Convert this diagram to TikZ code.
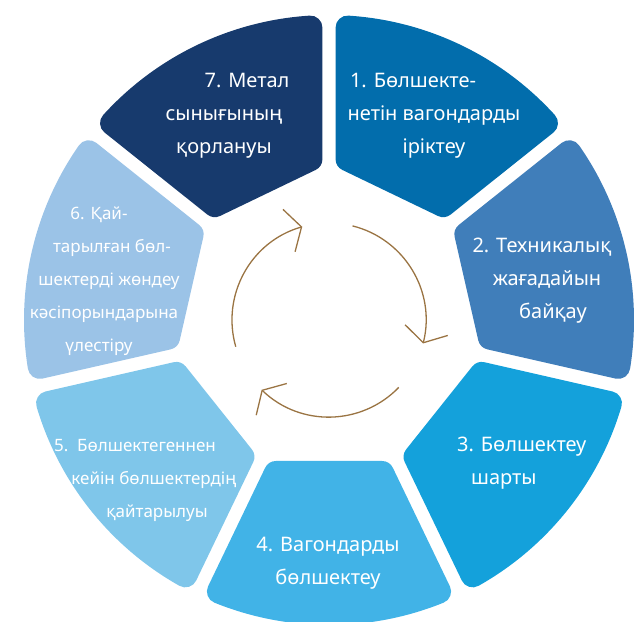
\documentclass[tikz,border=0pt]{standalone}
\usepackage{fontspec}
\setmainfont{Noto Sans}
\usetikzlibrary{arrows.meta}
\definecolor{navy}{HTML}{173A6D}
\definecolor{deepblue}{HTML}{026DAC}
\definecolor{steel}{HTML}{407EBA}
\definecolor{ocean}{HTML}{14A1DB}
\definecolor{sky}{HTML}{41B3E7}
\definecolor{pale}{HTML}{7FC6EA}
\definecolor{mist}{HTML}{9BC3E7}
\definecolor{bronze}{HTML}{9A7443}

\begin{document}
\begin{tikzpicture}[x=1pt,y=1pt]
  \tikzstyle{seg}=[line width=24pt,line join=round]
  \tikzstyle{lbl}=[text=white,font=\fontsize{20}{33}\selectfont,align=center,inner sep=0pt]
  \tikzstyle{lbls}=[lbl,font=\fontsize{17}{33}\selectfont]
  \tikzstyle{cyc}=[draw=bronze,line width=1.3pt,-{Straight Barb[length=13pt,width=44pt]}]
  \useasboundingbox (-329,-301) rectangle (310,320);
  % segments: shrunk shape + thick round-joined stroke = rounded corners
  \filldraw[seg,fill=deepblue,draw=deepblue] (42.22:293) arc[start angle=42.22,end angle=86.36,radius=293] -- (83.41:161.93) -- (45.17:161.93) -- cycle;
  \filldraw[seg,fill=steel,draw=steel] (-9.21:293) arc[start angle=-9.21,end angle=34.93,radius=293] -- (31.98:161.93) -- (-6.26:161.93) -- cycle;
  \filldraw[seg,fill=ocean,draw=ocean] (-60.64:293) arc[start angle=-60.64,end angle=-16.50,radius=293] -- (-19.45:161.93) -- (-57.69:161.93) -- cycle;
  \filldraw[seg,fill=sky,draw=sky] (-112.07:293) arc[start angle=-112.07,end angle=-67.93,radius=293] -- (-70.88:161.93) -- (-109.12:161.93) -- cycle;
  \filldraw[seg,fill=pale,draw=pale] (-163.50:293) arc[start angle=-163.50,end angle=-119.36,radius=293] -- (-122.31:161.93) -- (-160.55:161.93) -- cycle;
  \filldraw[seg,fill=mist,draw=mist] (145.07:293) arc[start angle=145.07,end angle=189.21,radius=293] -- (186.26:161.93) -- (148.02:161.93) -- cycle;
  \filldraw[seg,fill=navy,draw=navy] (93.64:293) arc[start angle=93.64,end angle=137.78,radius=293] -- (134.83:161.93) -- (96.59:161.93) -- cycle;
  % labels
  \node[lbl] (t1) at (105,204) {1. Бөлшекте-\hspace*{42pt}\\нетін вагондарды\\іріктеу};
  \node[lbl] (t2) at (218,39) {2. Техникалық\hspace*{10pt}\\жағадайын\\\hspace*{12pt}байқау};
  \node[lbl,anchor=west,align=left] (t3) at (128,-143) {3. Бөлшектеу\\\hspace*{14pt}шарты};
  \node[lbl] (t4) at (-1,-243) {4. Вагондарды\\бөлшектеу};
  \node[lbls] (t5) at (-175,-160) {5.~~Бөлшектегеннен\hspace*{38pt}\\кейін бөлшектердің\\\hspace*{6pt}қайтарылуы};
  \node[lbls] (t6) at (-225,39) {6. Қай-\hspace*{10pt}\\\hspace*{16pt}тарылған бөл-\\\hspace*{10pt}шектерді жөндеу\\кәсіпорындарына\\үлестіру\hspace*{10pt}};
  \node[lbl] (t7) at (-105,204) {\hspace*{46pt}7. Метал\\сынығының\\қорлануы};
  % cycle arrows
  \coordinate (hub) at (0,0);
  \draw[cyc] ([shift={(196:97)}]hub) arc[start angle=196,end angle=106,radius=97];
  \draw[cyc] ([shift={(76:97)}]hub) arc[start angle=76,end angle=-14,radius=97];
  \draw[cyc] ([shift={(-44:97)}]hub) arc[start angle=-44,end angle=-134,radius=97];
\end{tikzpicture}
\end{document}
